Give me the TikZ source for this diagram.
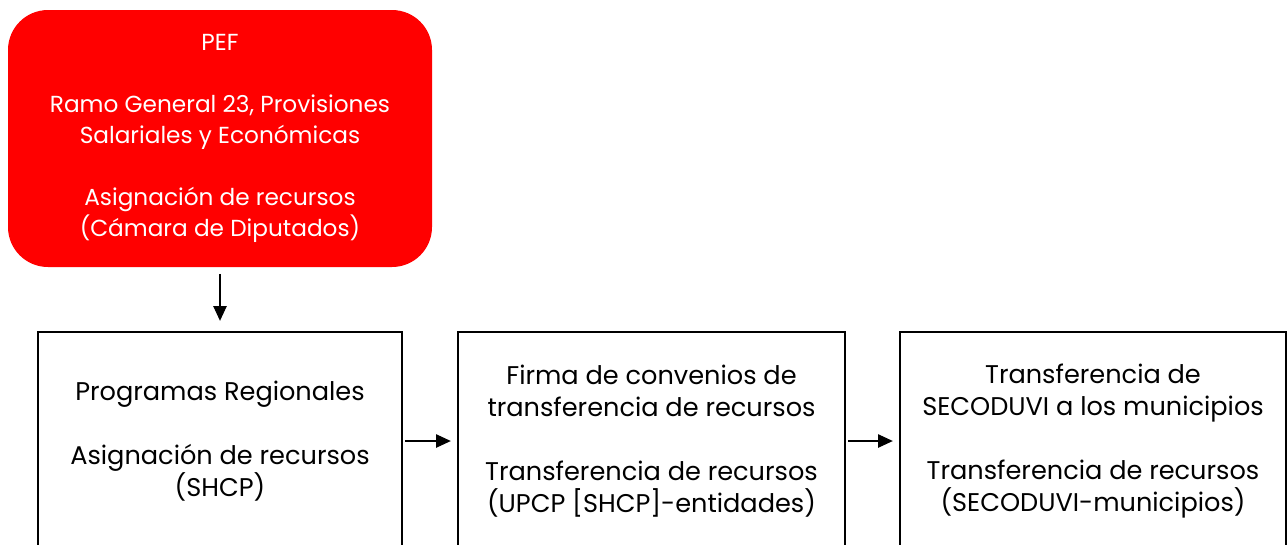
\documentclass[tikz,border=0pt]{standalone}
\usepackage{fontspec}
\setmainfont{Poppins}
\usepackage{xcolor}
\usepackage{tikz}
\usetikzlibrary{shapes,arrows,positioning,calc,arrows.meta}

\definecolor{pefred}{RGB}{255,0,0}

\begin{document}
\begin{tikzpicture}[x=0.75pt, y=-0.75pt,
    stagebox/.style={draw, line width=1.8pt, align=center, inner sep=0pt,
      font=\fontsize{19.2}{24}\selectfont, minimum height=163.5pt},
    flow/.style={-{Triangle[length=11pt, width=10pt]}, line width=0.8pt}]
    % Frame
    \useasboundingbox (0,0) rectangle (1288,544);
    \clip (0,0) rectangle (1288,544);

    % Budget origin
    \node [fill=pefred, text=white, rounded corners=30pt, align=center,
      font=\fontsize{17.4}{23.25}\selectfont, minimum width=318pt,
      minimum height=192.75pt] (pef) at (220,138.5)
      {PEF\\[23.25pt]Ramo General 23, Provisiones\\Salariales y Económicas\\[23.25pt]Asignación de recursos\\(Cámara de Diputados)};

    % Stages
    \node [stagebox, minimum width=273pt] (regional) at (220,441)
      {Programas Regionales\\[24pt]Asignación de recursos\\(SHCP)};
    \node [stagebox, minimum width=290.25pt] (convenios) at (651.5,441)
      {Firma de convenios de\\transferencia de recursos\\[24pt]Transferencia de recursos\\(UPCP [SHCP]-entidades)};
    \node [stagebox, minimum width=289.5pt] (municipios) at (1093,441)
      {Transferencia de\\SECODUVI a los municipios\\[24pt]Transferencia de recursos\\(SECODUVI-municipios)};

    % Flow
    \draw [flow, shorten <=5pt, shorten >=7.5pt] (pef.south) -- (regional.north);
    \draw [flow, shorten <=1.5pt, shorten >=4.5pt] (regional.east) -- (convenios.west);
    \draw [flow, shorten <=1.5pt, shorten >=4.5pt] (convenios.east) -- (municipios.west);
\end{tikzpicture}
\end{document}
